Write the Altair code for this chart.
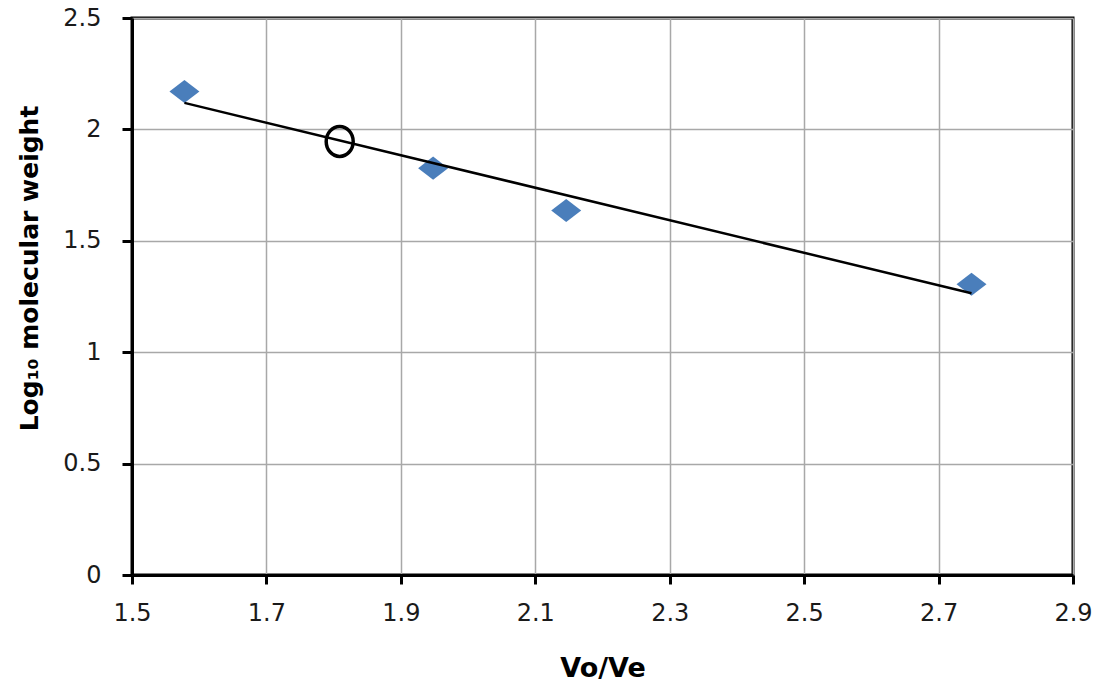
import altair as alt
import pandas as pd

# Calibration standards: elution ratio vs log10 of molecular weight
vo_ve = [1.578, 1.948, 2.146, 2.749]
log_mw = [2.170, 1.826, 1.636, 1.305]

# Unknown sample placed on the fitted line
unknown_vo_ve = [1.809]
unknown_log_mw = [1.946]

x_ticks = [1.5, 1.7, 1.9, 2.1, 2.3, 2.5, 2.7, 2.9]
y_ticks = [0, 0.5, 1, 1.5, 2, 2.5]

standards = pd.DataFrame({"x": vo_ve, "y": log_mw})
unknown = pd.DataFrame({"x": unknown_vo_ve, "y": unknown_log_mw})

x_scale = alt.Scale(domain=[1.5, 2.9], nice=False, zero=False)
y_scale = alt.Scale(domain=[0, 2.5], nice=False, zero=False)

x_axis = alt.Axis(
    values=x_ticks, format=".1f", title="Vo/Ve",
    labelFontSize=24, labelFont="DejaVu Sans", labelColor="#1a1a1a",
    labelPadding=17, labelFlush=False, labelOverlap=False,
    tickSize=9, tickWidth=3, tickColor="black",
    domainColor="black", domainWidth=3,
    gridColor="#a8a8a8", gridWidth=1.5,
    titleFont="DejaVu Sans", titleFontSize=27, titleFontWeight="bold",
    titleColor="black", titleBaseline="alphabetic", titleY=101,
)
y_axis = alt.Axis(
    values=y_ticks, format=".1~f", title="Log₁₀ molecular weight",
    labelFontSize=24, labelFont="DejaVu Sans", labelColor="#1a1a1a",
    labelPadding=21, labelFlush=False, labelOverlap=False,
    tickSize=10, tickWidth=3, tickColor="black",
    domainColor="black", domainWidth=3,
    gridColor="#a8a8a8", gridWidth=1.5,
    titleFont="DejaVu Sans", titleFontSize=25, titleFontWeight="bold",
    titleColor="black", titleBaseline="alphabetic", titleAlign="center",
    titleAngle=270, titleX=-95, titleY=250,
)

base = alt.Chart(standards).encode(
    x=alt.X("x:Q", scale=x_scale, axis=x_axis),
    y=alt.Y("y:Q", scale=y_scale, axis=y_axis),
)

diamonds = base.mark_point(
    shape="M-1,0L0,-0.77L1,0L0,0.77Z",
    filled=True, size=900, color="#4a7ebb", opacity=1,
)

trend = base.transform_regression("x", "y").mark_line(
    color="black", strokeWidth=2.5
)

ellipse = alt.Chart(unknown).mark_point(
    shape="M0,-1A0.9,1 0 1,1 0,1A0.9,1 0 1,1 0,-1Z",
    filled=False, size=900, stroke="black", strokeWidth=3.5, opacity=1,
).encode(
    x=alt.X("x:Q", scale=x_scale),
    y=alt.Y("y:Q", scale=y_scale),
)

chart = alt.layer(diamonds, trend, ellipse).properties(
    width=941,
    height=557,
    autosize=alt.AutoSizeParams(type="none"),
    padding={"left": 132, "top": 18, "right": 23, "bottom": 107},
    background="white",
).configure_view(
    stroke="black", strokeWidth=3
)

chart.save("out.html", embed_options={"renderer": "svg", "actions": False})
